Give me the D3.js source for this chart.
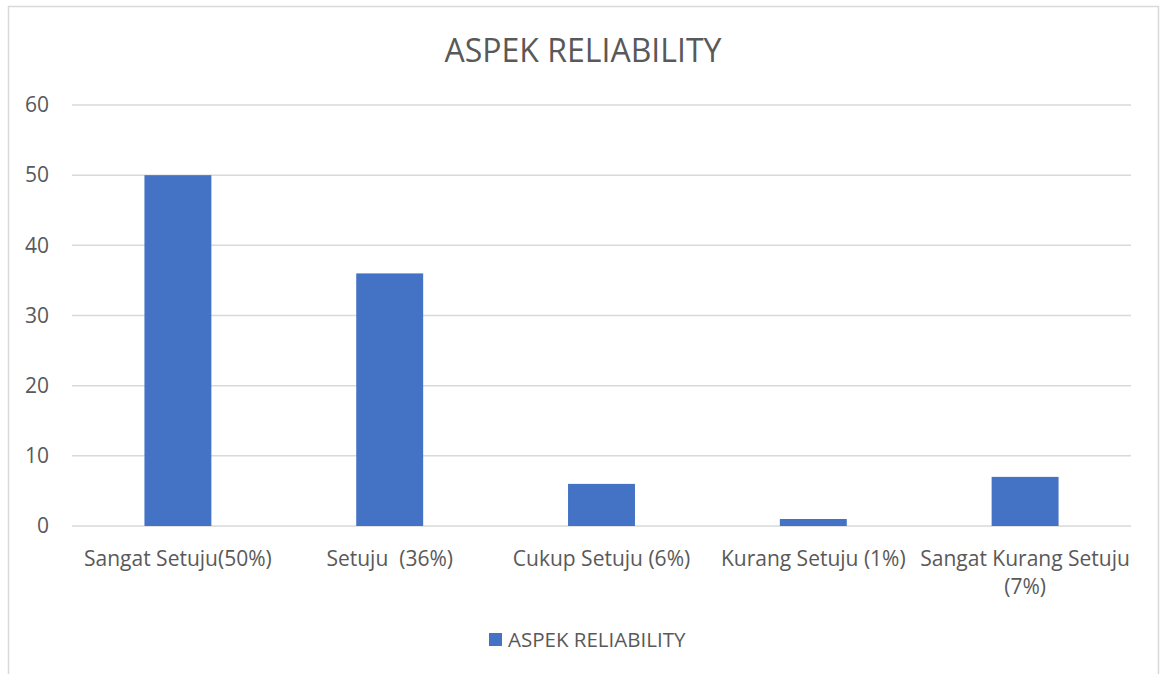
<!DOCTYPE html>
<html>
<head>
<meta charset="utf-8">
<script src="https://cdn.jsdelivr.net/npm/d3@7"></script>
<style>
  html, body { margin: 0; padding: 0; background: #fff; }
  svg { display: block; }
  text { font-family: "Open Sans", sans-serif; fill: #595959; }
</style>
</head>
<body>
<svg id="chart" width="1160" height="674"></svg>
<script>
const categories = [
  ["Sangat Setuju(50%)"],
  ["Setuju  (36%)"],
  ["Cukup Setuju (6%)"],
  ["Kurang Setuju (1%)"],
  ["Sangat Kurang Setuju", "(7%)"]
];
const values = [50, 36, 6, 1, 7];
const yTicks = [0, 10, 20, 30, 40, 50, 60];
const seriesName = "ASPEK RELIABILITY";
const chartTitle = "ASPEK RELIABILITY";

const svg = d3.select("#chart");
const plot = { left: 72, right: 1131, top: 105, bottom: 526 };
const barColor = "#4472C4";
const gridColor = "#d9d9d9";

// chart border
svg.append("rect")
  .attr("x", 8.5).attr("y", 6.5)
  .attr("width", 1150).attr("height", 700)
  .attr("fill", "#fff").attr("stroke", gridColor).attr("stroke-width", 1.5);

const x = d3.scaleBand()
  .domain(d3.range(categories.length))
  .range([plot.left, plot.right])
  .paddingInner(0.684).paddingOuter(0.342);

const y = d3.scaleLinear().domain([0, 60]).range([plot.bottom, plot.top]);

// gridlines
svg.append("g").selectAll("line").data(yTicks).join("line")
  .attr("x1", plot.left).attr("x2", plot.right)
  .attr("y1", d => y(d)).attr("y2", d => y(d))
  .attr("stroke", gridColor).attr("stroke-width", 1.5);

// y axis labels
const yAxis = d3.axisLeft(y).tickValues(yTicks).tickSize(0).tickPadding(23);
const gy = svg.append("g").attr("transform", `translate(${plot.left},0)`).call(yAxis);
gy.select(".domain").remove();
gy.selectAll("text").attr("font-size", 21).attr("fill", "#595959")
  .style("font-family", "'Open Sans', sans-serif");

// bars
svg.append("g").selectAll("rect").data(values).join("rect")
  .attr("x", (d, i) => x(i))
  .attr("width", x.bandwidth())
  .attr("y", d => y(d))
  .attr("height", d => y(0) - y(d))
  .attr("fill", barColor);

// x labels
const xl = svg.append("g").selectAll("text").data(categories).join("text")
  .attr("text-anchor", "middle")
  .attr("font-size", 21)
  .style("white-space", "pre")
  .attr("x", (d, i) => x(i) + x.bandwidth() / 2)
  .attr("y", 566);
xl.selectAll("tspan").data(d => d).join("tspan")
  .attr("x", function() { return d3.select(this.parentNode).attr("x"); })
  .attr("dy", (d, i) => i === 0 ? 0 : 28)
  .text(d => d);

// title
svg.append("text")
  .attr("x", 583).attr("y", 62)
  .attr("text-anchor", "middle")
  .attr("font-size", 32)
  .text(chartTitle);

// legend
const lg = svg.append("g");
lg.append("rect").attr("x", 489).attr("y", 633).attr("width", 13).attr("height", 13).attr("fill", barColor);
lg.append("text").attr("x", 508).attr("y", 647).attr("font-size", 20.5).text(seriesName);
</script>
</body>
</html>
